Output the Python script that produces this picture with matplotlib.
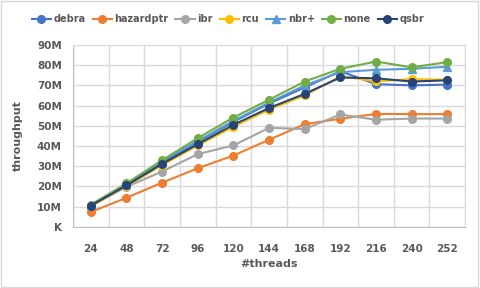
import numpy as np
import matplotlib.pyplot as plt
from matplotlib.ticker import FuncFormatter

# donnees
threads = ['24', '48', '72', '96', '120', '144', '168', '192', '216', '240', '252']
debra = [10.6, 20.8, 32.0, 42.0, 52.0, 61.0, 69.0, 77.0, 70.6, 70.0, 70.4]
hazardptr = [7.4, 14.4, 21.9, 29.0, 35.3, 43.1, 50.8, 53.5, 55.9, 55.8, 55.8]
ibr = [10.3, 19.8, 27.4, 36.0, 40.3, 49.0, 48.4, 55.6, 53.0, 53.6, 53.6]
rcu = [10.2, 20.2, 30.5, 40.3, 49.5, 58.0, 65.0, 74.5, 72.0, 73.1, 72.8]
nbr = [10.8, 21.0, 32.5, 42.5, 52.5, 61.5, 70.0, 76.5, 77.7, 78.2, 79.2]
none = [11.0, 21.5, 33.0, 43.9, 54.1, 62.9, 71.9, 78.2, 81.8, 78.9, 81.5]
qsbr = [10.5, 20.5, 31.2, 40.9, 50.5, 58.8, 65.8, 73.9, 73.5, 71.9, 72.5]

series = [('debra', debra, '#4472C4', 'o'),
          ('hazardptr', hazardptr, '#ED7D31', 'o'),
          ('ibr', ibr, '#A5A5A5', 'o'),
          ('rcu', rcu, '#FFC000', 'o'),
          ('nbr+', nbr, '#5B9BD5', '^'),
          ('none', none, '#70AD47', 'o'),
          ('qsbr', qsbr, '#264478', 'o')]

txt = '#595959'
grid = '#D9D9D9'

fig = plt.figure(figsize=(4.8, 2.88), dpi=100)
ax = fig.add_axes([0.152, 0.212, 0.817, 0.632])
x = np.arange(len(threads))

for name, vals, col, mk in series:
    ax.plot(x, np.array(vals) * 1e6, color=col, marker=mk, markersize=5.5,
            linewidth=1.5, label=name)

ax.set_xlim(-0.5, len(threads) - 0.5)
ax.set_ylim(0, 90e6)
ax.set_yticks(np.arange(0, 91e6, 10e6))
ax.yaxis.set_major_formatter(FuncFormatter(lambda v, p: 'K' if v == 0 else '%dM' % round(v / 1e6)))
ax.set_xticks(x)
ax.set_xticklabels(threads)
ax.set_xticks(np.arange(-0.5, len(threads), 1), minor=True)

ax.grid(True, which='minor', axis='x', color=grid, linewidth=1)
ax.grid(True, which='major', axis='y', color=grid, linewidth=1)
ax.set_axisbelow(True)
for s in ax.spines.values():
    s.set_color(grid)
ax.spines['bottom'].set_color('#BFBFBF')
ax.spines['left'].set_color('#BFBFBF')

ax.tick_params(which='both', length=0)
ax.tick_params(axis='x', pad=12)
ax.tick_params(axis='y', pad=8)
for lab in ax.get_xticklabels() + ax.get_yticklabels():
    lab.set_fontsize(7.5)
    lab.set_fontweight('bold')
    lab.set_color(txt)

ax.set_xlabel('#threads', fontsize=8, fontweight='bold', color=txt, labelpad=4)
ax.set_ylabel('throughput', fontsize=8, fontweight='bold', color=txt, labelpad=10)

fig.legend(loc='center', bbox_to_anchor=(0.475, 0.934), ncol=7, frameon=False,
           prop={'size': 7, 'weight': 'bold'}, labelcolor=txt,
           handlelength=2.0, handletextpad=0.25, columnspacing=0.7)

fig.patches.append(plt.Rectangle((0.002, 0.003), 0.994, 0.992, transform=fig.transFigure,
                                 fill=False, edgecolor=grid, linewidth=1))

fig.savefig('out.png', dpi=100)
